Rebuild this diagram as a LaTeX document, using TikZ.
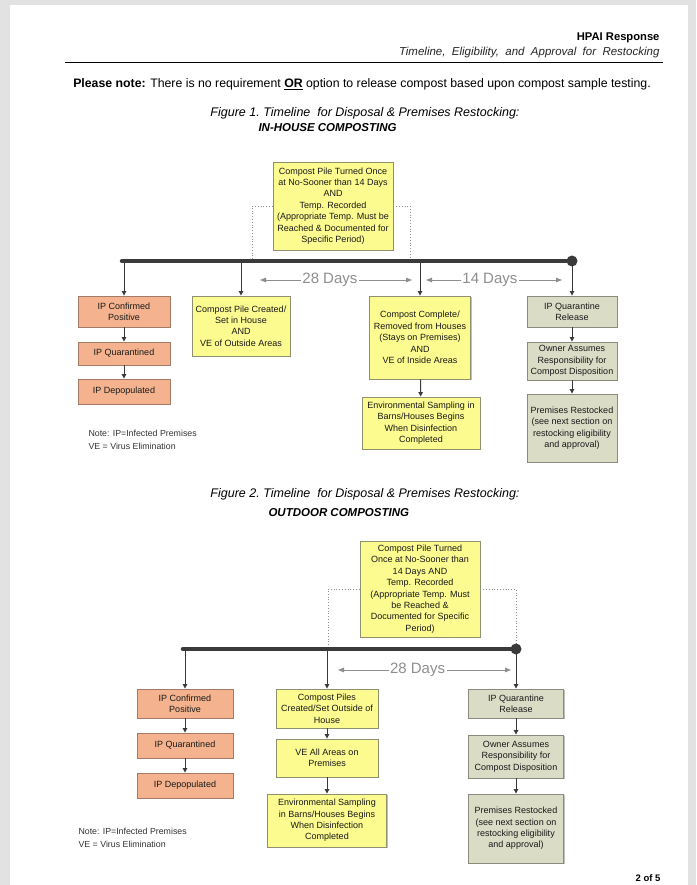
\documentclass[tikz,border=0pt]{standalone}
\usepackage{fontspec}
\setmainfont{Liberation Sans}
\usepackage{tikz}
\usetikzlibrary{arrows.meta, positioning, shadows}

\definecolor{pagegray}{HTML}{E2E2E2}
\definecolor{orangebox}{HTML}{F4B38E}
\definecolor{orangeedge}{HTML}{A27B66}
\definecolor{yellowbox}{HTML}{FCFB90}
\definecolor{yellowedge}{HTML}{8F8F72}
\definecolor{greenbox}{HTML}{DADCC6}
\definecolor{greenedge}{HTML}{8A8B7D}
\definecolor{linegray}{HTML}{3A3A3A}
\definecolor{daygray}{HTML}{8E8E8E}

\begin{document}
\begin{tikzpicture}[
    x=1pt, y=-1pt,
    boxsize/.style 2 args={minimum width=#1pt, minimum height=#2pt},
    box/.style={draw, line width=0.9pt, align=center, inner sep=1pt,
        font=\fontsize{9}{11.4}\selectfont, text=black!90,
        drop shadow={shadow xshift=1.2pt, shadow yshift=-1.2pt, fill=black, opacity=0.25}},
    orange box/.style={box, fill=orangebox, draw=orangeedge},
    yellow box/.style={box, fill=yellowbox, draw=yellowedge},
    green box/.style={box, fill=greenbox, draw=greenedge},
    down arrow/.style={draw=linegray, line width=1pt, -{Triangle[length=4.5pt, width=4.5pt]}},
    timeline/.style={draw=linegray, line width=4.5pt},
    link/.style={draw=daygray, line width=0.8pt, dotted},
    span/.style={draw=daygray, line width=1pt,
        {Triangle[length=6pt, width=4.5pt]}-{Triangle[length=6pt, width=4.5pt]}},
    span label/.style={fill=white, text=daygray, font=\fontsize{15}{15}\selectfont, inner sep=1.5pt},
    note/.style={anchor=west, align=left, text=black!80, font=\fontsize{8.8}{13}\selectfont},
    title/.style={font=\itshape\fontsize{12.5}{12.5}\selectfont},
    subtitle/.style={font=\bfseries\itshape\fontsize{11.5}{11.5}\selectfont}
]

% --- Page ---
\useasboundingbox (0,0) rectangle (696,885);
\fill[pagegray] (0,0) rectangle (696,885);
\fill[white] (10,5) rectangle (688,885);

% --- Header ---
\node[anchor=base east, font=\bfseries\fontsize{11.2}{11.2}\selectfont] (head) at (663,41) {HPAI Response};
\node[anchor=base east, font=\itshape\fontsize{11.5}{11.5}\selectfont, text=black!85] (subhead) at (663,56)
    {Timeline,\ \ Eligibility,\ \ and\ \ Approval\ \ for\ \ Restocking};
\coordinate (rulea) at (65,62);
\coordinate (ruleb) at (663,62);
\draw[line width=0.9pt] (rulea) -- (ruleb);
\node[anchor=base, font=\fontsize{12.3}{12.3}\selectfont] (please) at (362,88)
    {\textbf{Please note:} There is no requirement \underline{\textbf{OR}} option to release compost based upon compost sample testing.};

% --- Figure 1: in-house composting ---
\node[anchor=base, title] (fig1) at (365,117) {Figure 1.\ Timeline\ \ for Disposal \& Premises Restocking:};
\node[anchor=base west, subtitle] (fig1b) at (255,132) {IN-HOUSE COMPOSTING};

\node[yellow box, boxsize={120}{88}] (turn1) at (333,206)
    {Compost Pile Turned Once\\at No-Sooner than 14 Days\\AND\\Temp. Recorded\\(Appropriate Temp. Must be\\Reached \& Documented for\\Specific Period)};

\node[orange box, boxsize={92}{31}] (ipc1) at (124,311.5) {IP Confirmed\\Positive};
\node[orange box, boxsize={92}{23}] (ipq1) at (124,353.5) {IP Quarantined};
\node[orange box, boxsize={92}{25}] (ipd1) at (124,391.5) {IP Depopulated};

\node[yellow box, boxsize={98}{60}] (pile1) at (241,326) {Compost Pile Created/\\Set in House\\AND\\VE of Outside Areas};
\node[yellow box, boxsize={101}{83}] (done1) at (420,337.5) {Compost Complete/\\Removed from Houses\\(Stays on Premises)\\AND\\VE of Inside Areas};
\node[yellow box, boxsize={118}{52}] (env1) at (421,423) {Environmental Sampling in\\Barns/Houses Begins\\When Disinfection\\Completed};

\node[green box, boxsize={90}{31}] (rel1) at (572,311.5) {IP Quarantine\\Release};
\node[green box, boxsize={90}{38}] (own1) at (572,361) {Owner Assumes\\Responsibility for\\Compost Disposition};
\node[green box, boxsize={90}{68}] (rest1) at (572,428) {Premises Restocked\\(see next section on\\restocking eligibility\\and approval)};

\coordinate (t1a) at (122,261);
\coordinate (t1b) at (572,261);
\coordinate (dot1l) at (252,261);
\coordinate (dot1r) at (410,261);

\draw[link] (turn1.west) -| (dot1l);
\draw[link] (turn1.east) -| (dot1r);
\foreach \n in {ipc1, pile1, done1, rel1}
    \draw[down arrow] (\n.north |- t1a) -- (\n.north);
\draw[timeline, line cap=round] (t1a) -- (t1b);
\fill[linegray] (t1b) circle (5.5pt);

\draw[down arrow] (ipc1) -- (ipq1);
\draw[down arrow] (ipq1) -- (ipd1);
\draw[down arrow] (done1) -- (env1);
\draw[down arrow] (rel1) -- (own1);
\draw[down arrow] (own1) -- (rest1);

\coordinate (s1a) at (260,280);
\coordinate (s1b) at (412,280);
\coordinate (s1c) at (426,280);
\coordinate (s1d) at (562,280);
\draw[span] (s1a) -- node[span label, pos=0.46] {28 Days} (s1b);
\draw[span] (s1c) -- node[span label, pos=0.47] {14 Days} (s1d);

\node[note] (note1) at (85,439.5) {Note: IP=Infected Premises\\VE = Virus Elimination};

% --- Figure 2: outdoor composting ---
\node[anchor=base, title] (fig2) at (365,497) {Figure 2.\ Timeline\ \ for Disposal \& Premises Restocking:};
\node[anchor=base west, subtitle] (fig2b) at (265,516) {OUTDOOR COMPOSTING};

\node[yellow box, boxsize={120}{96}] (turn2) at (420,589)
    {Compost Pile Turned\\Once at No-Sooner than\\14 Days AND\\Temp. Recorded\\(Appropriate Temp. Must\\be Reached \&\\Documented for Specific\\Period)};

\node[orange box, boxsize={96}{29}] (ipc2) at (185,703.5) {IP Confirmed\\Positive};
\node[orange box, boxsize={96}{25}] (ipq2) at (185,745.5) {IP Quarantined};
\node[orange box, boxsize={96}{25}] (ipd2) at (185,785.5) {IP Depopulated};

\node[yellow box, boxsize={102}{39}] (pile2) at (327,708.5) {Compost Piles\\Created/Set Outside of\\House};
\node[yellow box, boxsize={102}{38}] (ve2) at (327,758) {VE All Areas on\\Premises};
\node[yellow box, boxsize={119}{53}] (env2) at (327,820.5) {Environmental Sampling\\in Barns/Houses Begins\\When Disinfection\\Completed};

\node[green box, boxsize={95}{29}] (rel2) at (516,703.5) {IP Quarantine\\Release};
\node[green box, boxsize={95}{43}] (own2) at (516,756.5) {Owner Assumes\\Responsibility for\\Compost Disposition};
\node[green box, boxsize={95}{69}] (rest2) at (516,828.5) {Premises Restocked\\(see next section on\\restocking eligibility\\and approval)};

\coordinate (t2a) at (183,649);
\coordinate (t2b) at (516,649);
\coordinate (dot2l) at (328,649);

\draw[link] (turn2.west) -| (dot2l);
\draw[link] (turn2.east) -| (t2b);
\foreach \n in {ipc2, pile2, rel2}
    \draw[down arrow] (\n.north |- t2a) -- (\n.north);
\draw[timeline, line cap=round] (t2a) -- (t2b);
\fill[linegray] (t2b) circle (5.5pt);

\draw[down arrow] (ipc2) -- (ipq2);
\draw[down arrow] (ipq2) -- (ipd2);
\draw[down arrow] (pile2) -- (ve2);
\draw[down arrow] (ve2) -- (env2);
\draw[down arrow] (rel2) -- (own2);
\draw[down arrow] (own2) -- (rest2);

\coordinate (s2a) at (338,670);
\coordinate (s2b) at (511,670);
\draw[span] (s2a) -- node[span label, pos=0.46] {28 Days} (s2b);

\node[note] (note2) at (75,838) {Note: IP=Infected Premises\\VE = Virus Elimination};

% --- Footer ---
\node[anchor=base east, font=\bfseries\fontsize{9.5}{9.5}\selectfont] (page) at (664,881) {2 of 5};

\end{tikzpicture}
\end{document}
